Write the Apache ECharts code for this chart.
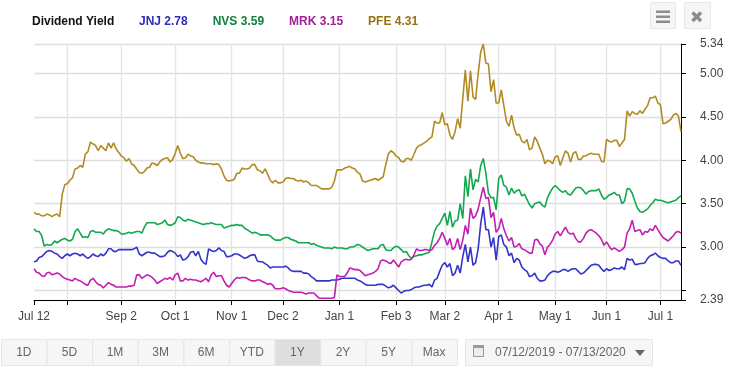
<!DOCTYPE html>
<html>
<head>
<meta charset="utf-8">
<title>Dividend Yield</title>
<script src="https://cdn.jsdelivr.net/npm/echarts@6/dist/echarts.min.js"></script>
<style>
  html, body { margin: 0; padding: 0; background: #fff; }
  #chart { width: 736px; height: 368px; }
</style>
</head>
<body>
<div id="chart"></div>
<script>
// one value per trading session
var jnj = [
  2.83,2.84,2.88,2.89,2.92,2.95,2.96,2.95,2.93,2.92,2.89,2.87,2.90,2.92,2.90,2.92,2.93,2.92,2.90,2.92,
  2.89,2.87,2.89,2.92,2.90,2.89,2.92,2.90,2.93,2.98,2.98,2.95,2.95,2.97,2.97,2.97,2.97,2.97,2.97,2.98,
  3.00,2.92,2.90,2.92,2.94,2.94,2.93,2.93,2.91,2.89,2.89,2.90,2.94,2.96,2.95,2.93,2.89,2.91,2.85,2.86,
  2.89,2.94,2.95,2.90,2.95,2.86,2.82,2.80,2.98,2.96,2.95,2.96,2.99,2.96,2.95,2.89,2.89,2.90,2.92,2.92,
  2.91,2.89,2.87,2.88,2.90,2.91,2.91,2.84,2.83,2.83,2.81,2.79,2.76,2.77,2.77,2.77,2.77,2.77,2.78,2.76,
  2.73,2.72,2.72,2.72,2.72,2.70,2.70,2.69,2.66,2.64,2.61,2.61,2.61,2.61,2.61,2.61,2.62,2.62,2.62,2.63,
  2.64,2.64,2.64,2.64,2.64,2.64,2.62,2.61,2.59,2.57,2.56,2.56,2.56,2.56,2.57,2.57,2.57,2.55,2.53,2.54,
  2.56,2.53,2.50,2.47,2.49,2.50,2.50,2.51,2.53,2.54,2.54,2.55,2.56,2.56,2.57,2.54,2.62,2.64,2.72,2.79,
  2.82,2.77,2.81,2.67,2.70,2.79,2.70,2.89,3.03,2.83,3.00,2.79,2.82,2.98,3.27,3.46,3.20,3.20,3.00,3.11,
  2.85,3.12,3.14,3.03,3.00,2.90,2.93,2.82,2.87,2.85,2.77,2.74,2.72,2.66,2.67,2.70,2.64,2.61,2.61,2.62,
  2.67,2.70,2.72,2.72,2.71,2.72,2.74,2.74,2.72,2.74,2.75,2.75,2.72,2.69,2.70,2.73,2.76,2.79,2.80,2.80,
  2.79,2.75,2.72,2.75,2.73,2.74,2.76,2.75,2.75,2.77,2.74,2.87,2.85,2.86,2.80,2.80,2.81,2.81,2.82,2.87,
  2.90,2.91,2.93,2.90,2.88,2.87,2.87,2.84,2.82,2.82,2.84,2.84,2.79
]
var nvs = [
  3.21,3.18,3.18,3.13,3.01,3.03,3.02,3.03,3.07,3.05,3.07,3.09,3.10,3.08,3.07,3.09,3.18,3.21,3.16,3.11,
  3.12,3.11,3.18,3.19,3.17,3.17,3.17,3.15,3.19,3.21,3.20,3.19,3.19,3.18,3.15,3.15,3.16,3.17,3.16,3.17,
  3.18,3.18,3.16,3.23,3.28,3.28,3.28,3.28,3.26,3.27,3.28,3.31,3.26,3.25,3.26,3.28,3.35,3.34,3.31,3.30,
  3.32,3.31,3.30,3.29,3.28,3.27,3.26,3.27,3.27,3.28,3.27,3.26,3.26,3.26,3.22,3.23,3.24,3.25,3.25,3.26,
  3.25,3.25,3.22,3.20,3.18,3.16,3.17,3.16,3.14,3.14,3.14,3.14,3.13,3.10,3.08,3.08,3.08,3.10,3.11,3.11,
  3.09,3.08,3.07,3.05,3.05,3.05,3.05,3.05,3.03,3.04,3.02,3.01,3.00,2.99,2.99,2.99,2.98,3.00,2.99,2.99,
  2.99,2.98,2.98,3.00,3.00,3.01,3.03,3.02,3.00,2.98,2.96,2.97,2.98,2.98,2.98,3.02,3.03,2.97,2.96,2.96,
  2.99,3.01,3.00,2.97,2.94,2.95,2.90,2.87,2.89,2.90,2.91,2.91,2.92,2.93,2.94,3.06,3.18,3.24,3.27,3.33,
  3.39,3.25,3.41,3.23,3.30,3.31,3.50,3.33,3.82,3.58,3.90,3.66,3.78,3.75,3.94,4.02,3.85,3.62,3.57,3.57,
  3.43,3.79,3.83,3.71,3.69,3.60,3.68,3.62,3.65,3.66,3.59,3.61,3.55,3.49,3.45,3.50,3.51,3.52,3.48,3.46,
  3.57,3.63,3.68,3.71,3.68,3.65,3.63,3.65,3.61,3.60,3.64,3.68,3.69,3.68,3.65,3.61,3.64,3.65,3.65,3.65,
  3.67,3.60,3.55,3.57,3.60,3.61,3.63,3.60,3.60,3.50,3.53,3.67,3.67,3.62,3.53,3.45,3.41,3.40,3.42,3.44,
  3.48,3.51,3.55,3.54,3.54,3.53,3.52,3.51,3.52,3.53,3.54,3.57,3.59
]
var mrk = [
  2.75,2.71,2.70,2.67,2.66,2.70,2.71,2.68,2.69,2.70,2.69,2.66,2.64,2.63,2.62,2.61,2.64,2.62,2.61,2.59,
  2.57,2.56,2.62,2.64,2.60,2.57,2.56,2.53,2.56,2.59,2.57,2.56,2.54,2.54,2.54,2.54,2.54,2.55,2.55,2.56,
  2.68,2.68,2.64,2.66,2.68,2.67,2.65,2.62,2.58,2.60,2.62,2.64,2.63,2.65,2.62,2.68,2.70,2.61,2.61,2.64,
  2.62,2.63,2.62,2.62,2.61,2.60,2.62,2.64,2.60,2.68,2.71,2.66,2.67,2.67,2.61,2.56,2.54,2.58,2.62,2.65,
  2.64,2.65,2.65,2.64,2.62,2.61,2.61,2.62,2.62,2.60,2.59,2.57,2.58,2.56,2.52,2.52,2.52,2.53,2.52,2.50,
  2.49,2.48,2.48,2.48,2.48,2.47,2.46,2.47,2.47,2.47,2.44,2.41,2.41,2.41,2.41,2.41,2.41,2.42,2.68,2.66,
  2.66,2.66,2.70,2.76,2.75,2.74,2.74,2.73,2.70,2.67,2.68,2.69,2.70,2.72,2.75,2.84,2.85,2.84,2.82,2.81,
  2.85,2.81,2.77,2.83,2.85,2.86,2.85,2.86,2.91,2.98,2.96,2.96,2.97,2.97,2.96,2.97,3.02,3.05,3.10,3.17,
  3.10,3.02,3.10,2.97,3.00,3.10,2.97,3.08,3.25,3.15,3.45,3.33,3.36,3.44,3.57,3.69,3.56,3.57,3.34,3.40,
  3.17,3.21,3.33,3.21,3.13,3.07,3.11,3.00,3.01,3.04,2.98,2.97,2.95,2.93,2.93,3.08,3.09,3.04,3.01,2.91,
  3.00,3.03,3.08,3.15,3.18,3.13,3.18,3.23,3.17,3.15,3.16,3.10,3.06,3.06,3.10,3.16,3.19,3.20,3.18,3.16,
  3.13,3.09,3.02,3.06,3.01,2.97,2.99,2.97,2.95,2.97,3.00,3.16,3.21,3.31,3.18,3.19,3.20,3.14,3.18,3.17,
  3.21,3.19,3.25,3.20,3.15,3.11,3.09,3.07,3.10,3.13,3.17,3.18,3.16
]
var pfe = [
  3.40,3.38,3.38,3.36,3.36,3.38,3.37,3.35,3.37,3.38,3.35,3.61,3.72,3.73,3.77,3.80,3.90,3.91,3.94,3.92,
  4.07,4.10,4.21,4.19,4.17,4.11,4.17,4.14,4.11,4.20,4.14,4.20,4.13,4.09,4.05,4.03,3.99,4.02,3.96,3.94,
  3.90,3.86,3.85,3.87,3.91,3.92,3.97,3.96,3.94,3.98,4.01,4.02,4.03,3.98,4.01,4.08,4.17,4.08,4.02,4.03,
  4.07,4.05,4.04,4.00,3.98,3.97,3.97,3.96,3.96,3.96,3.95,3.96,3.95,3.90,3.82,3.77,3.76,3.77,3.78,3.85,
  3.85,3.91,3.90,3.90,3.91,3.95,3.95,3.89,3.88,3.85,3.90,3.84,3.77,3.74,3.77,3.74,3.74,3.75,3.79,3.80,
  3.79,3.79,3.77,3.76,3.77,3.75,3.76,3.74,3.71,3.71,3.71,3.69,3.67,3.67,3.67,3.67,3.69,3.76,3.89,3.89,
  3.89,3.91,3.92,3.93,3.91,3.90,3.86,3.84,3.76,3.75,3.76,3.77,3.78,3.79,3.77,3.79,3.81,3.95,4.07,4.11,
  4.09,4.05,4.03,3.99,3.98,4.02,4.02,4.00,4.07,4.14,4.17,4.18,4.20,4.22,4.25,4.27,4.45,4.43,4.43,4.55,
  4.41,4.42,4.29,4.24,4.33,4.48,4.37,4.71,5.04,4.68,5.03,4.73,4.70,5.00,5.25,5.34,5.12,5.11,4.79,4.93,
  4.66,4.66,4.81,4.63,4.45,4.39,4.52,4.37,4.29,4.30,4.22,4.20,4.24,4.12,4.14,4.27,4.22,4.14,4.07,3.96,
  4.00,3.99,3.96,4.04,4.05,3.94,4.03,4.11,4.08,3.98,4.08,4.10,4.01,4.01,4.05,4.05,4.07,4.08,4.07,4.07,
  4.07,3.99,3.98,4.24,4.22,4.21,4.23,4.23,4.16,4.20,4.24,4.57,4.51,4.56,4.54,4.53,4.57,4.54,4.59,4.63,
  4.72,4.72,4.74,4.66,4.64,4.42,4.43,4.45,4.47,4.52,4.54,4.51,4.33
]
var seriesNames = ['JNJ', 'NVS', 'MRK', 'PFE']
var lastYields = ['2.78', '3.59', '3.15', '4.31']
var lineColors = ['#3434c8', '#13a850', '#c21fb3', '#b18b24']
var legendColors = ['#2d2dbf', '#11803f', '#a3209a', '#967215']

// session number -> month label, Aug 1 has a tick but no text
var tickSessions = [0, 13, 34, 55, 77, 97, 119, 141, 160, 181, 203, 223, 244]
var tickLabels = ['Jul 12', '', 'Sep 2', 'Oct 1', 'Nov 1', 'Dec 2', 'Jan 1', 'Feb 3', 'Mar 2', 'Apr 1', 'May 1', 'Jun 1', 'Jul 1']
var yTicks = [2.39, 2.5, 3, 3.5, 4, 4.5, 5, 5.34]
var yLabels = [2.39, 3, 3.5, 4, 4.5, 5, 5.34]

var rangeButtons = ['1D', '5D', '1M', '3M', '6M', 'YTD', '1Y', '2Y', '5Y', 'Max']
var activeRange = '1Y'
var dateRange = '07/12/2019 - 07/13/2020'

var fontFamily = '"Liberation Sans", Arial, sans-serif'

var categories = pfe.map(function(v, i) {
  var at = tickSessions.indexOf(i)
  return at >= 0 ? tickLabels[at] : ''
})

function isTick(i) {
  return tickSessions.indexOf(i) >= 0
}

function box(x, y, w, h, fill, stroke) {
  return {
    type: 'rect',
    shape: { x: x + 0.5, y: y + 0.5, width: w, height: h },
    style: { fill: fill, stroke: stroke, lineWidth: 1 }
  }
}

function label(text, x, y, align) {
  return {
    type: 'text',
    x: x,
    y: y,
    style: { text: text, fill: '#666', font: '12px ' + fontFamily, align: align || 'center', verticalAlign: 'middle' }
  }
}

function buildGraphics() {
  var out = []
  // range selector
  rangeButtons.forEach(function(name, i) {
    var x = 1 + i * 45.6
    out.push(box(x, 339, 45.6, 26, name === activeRange ? '#dedede' : '#f6f6f6', '#e6e6e6'))
    out.push(label(name, x + 22.8, 352.5))
  })
  // date picker
  out.push(box(465, 339, 187, 26, '#f6f6f6', '#e6e6e6'))
  out.push(label(dateRange, 495, 352.5, 'left'))
  out.push(box(473, 346, 10, 10, '#ececec', '#999'))
  out.push({ type: 'rect', shape: { x: 473, y: 345, width: 11, height: 3 }, style: { fill: '#999' } })
  out.push({ type: 'polygon', shape: { points: [[635, 350], [645, 350], [640, 356]] }, style: { fill: '#666' } })
  // menu and close buttons
  out.push(box(650, 2, 25, 26, '#f6f6f6', '#e8e8e8'))
  out.push(box(684, 2, 26, 26, '#f6f6f6', '#e8e8e8'))
  ;[10.5, 15.5, 20.5].forEach(function(y) {
    out.push({ type: 'rect', shape: { x: 656, y: y, width: 14, height: 2.5 }, style: { fill: '#8c8c8c' } })
  })
  out.push({ type: 'line', shape: { x1: 692.5, y1: 12.5, x2: 701, y2: 21 }, style: { stroke: '#8c8c8c', lineWidth: 3.6 } })
  out.push({ type: 'line', shape: { x1: 701, y1: 12.5, x2: 692.5, y2: 21 }, style: { stroke: '#8c8c8c', lineWidth: 3.6 } })
  return out
}

var chart = echarts.init(document.getElementById('chart'))
var values = [jnj, nvs, mrk, pfe]

var option = {
  animation: false,
  backgroundColor: '#fff',
  textStyle: { fontFamily: fontFamily },
  title: {
    text: 'Dividend Yield',
    left: 32,
    top: 16,
    padding: 0,
    textStyle: { fontSize: 12, fontWeight: 'bold', color: '#111', fontFamily: fontFamily }
  },
  legend: {
    left: 134,
    top: 16,
    padding: 0,
    icon: 'none',
    itemWidth: 0,
    itemHeight: 12,
    itemGap: 20,
    selectedMode: false,
    formatter: function(name) {
      return name + ' ' + lastYields[seriesNames.indexOf(name)]
    },
    data: seriesNames.map(function(name, i) {
      return {
        name: name,
        textStyle: { color: legendColors[i], fontSize: 12, fontWeight: 'bold', fontFamily: fontFamily }
      }
    })
  },
  grid: { left: 34, right: 55, top: 44, bottom: 68 },
  xAxis: {
    type: 'category',
    boundaryGap: false,
    data: categories,
    axisLine: { lineStyle: { color: '#000', width: 1 } },
    axisTick: { show: true, length: 5, interval: function(i) { return isTick(i) }, lineStyle: { color: '#000' } },
    axisLabel: {
      show: true,
      margin: 11,
      color: '#444',
      fontSize: 12,
      interval: function(i) { return isTick(i) }
    },
    splitLine: {
      show: true,
      interval: function(i) { return i > 0 && isTick(i) },
      lineStyle: { color: '#e4e4e4', width: 1.4 }
    }
  },
  yAxis: {
    type: 'value',
    position: 'right',
    min: 2.39,
    max: 5.34,
    axisLine: { show: true, lineStyle: { color: '#000', width: 1 } },
    axisTick: { show: true, length: 5, customValues: yTicks, lineStyle: { color: '#000' } },
    axisLabel: {
      margin: 19,
      color: '#444',
      fontSize: 12,
      customValues: yLabels,
      formatter: function(v) { return v.toFixed(2) }
    },
    splitLine: { show: true, lineStyle: { color: '#dedede', width: 1.4 } }
  },
  series: seriesNames.map(function(name, i) {
    return {
      name: name,
      type: 'line',
      data: values[i],
      showSymbol: false,
      smooth: false,
      lineStyle: { color: lineColors[i], width: 1.6 },
      itemStyle: { color: lineColors[i] },
      emphasis: { disabled: true }
    }
  }),
  graphic: buildGraphics()
}

chart.setOption(option)
window.addEventListener('resize', function() {
  chart.resize()
})
</script>
</body>
</html>
